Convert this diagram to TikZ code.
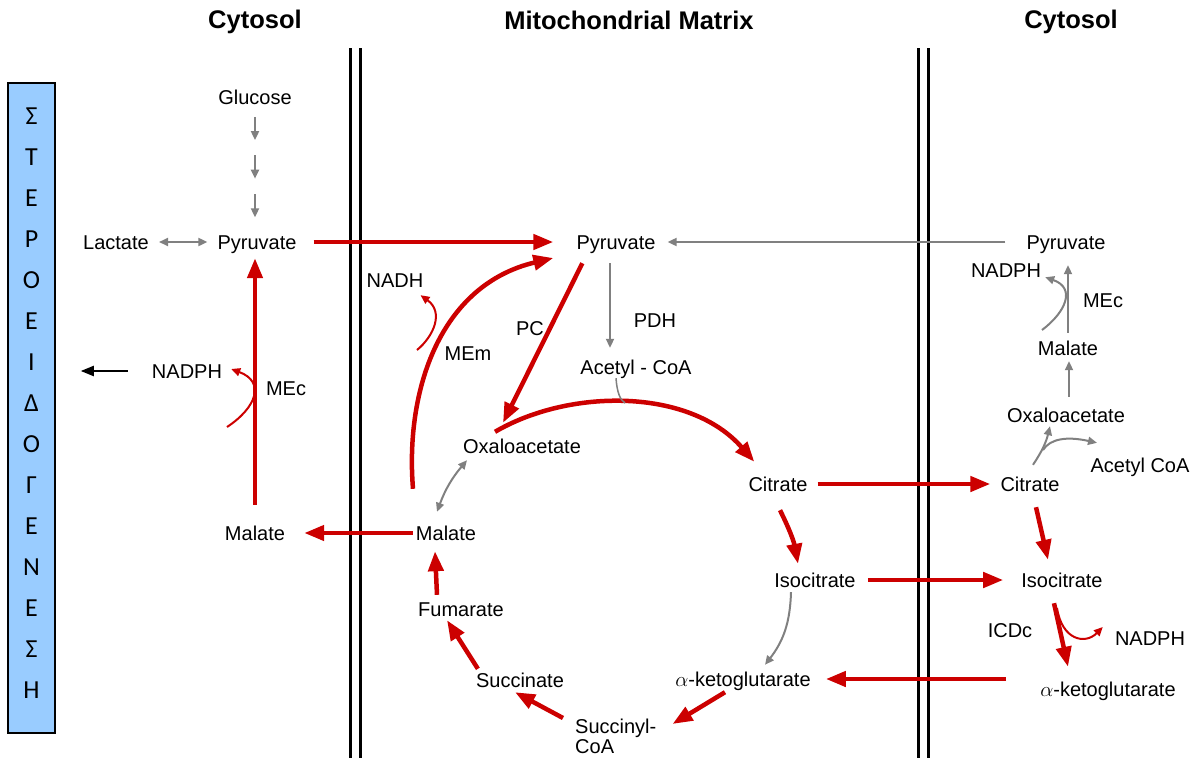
\documentclass[tikz,border=0pt]{standalone}
\usepackage{fontspec}
\setmainfont{Liberation Sans}
\newfontfamily\boxfont{Carlito}
\usetikzlibrary{arrows.meta, calc}

\definecolor{pathred}{RGB}{204,0,0}
\definecolor{sidegray}{RGB}{128,128,128}
\definecolor{boxblue}{RGB}{153,204,255}

\begin{document}
\begin{tikzpicture}[
    x=1pt, y=-1pt,
    lbl/.style={inner sep=2pt, text height=16pt, text depth=2pt, font=\fontsize{20}{24}\selectfont},
    ttl/.style={inner sep=2pt, font=\fontsize{25.5}{30}\selectfont\bfseries},
    redarr/.style={draw=pathred, line width=4.5pt, -{Triangle[length=20pt,width=15pt]}},
    redthin/.style={draw=pathred, line width=2pt, -{Triangle[length=9pt,width=8pt]}},
    grayarr/.style={draw=sidegray, line width=2pt, -{Triangle[length=9pt,width=8pt]}},
    graydbl/.style={draw=sidegray, line width=2pt, {Triangle[length=9pt,width=8pt]}-{Triangle[length=9pt,width=8pt]}},
    blkarr/.style={draw=black, line width=2pt, -{Triangle[length=13pt,width=10pt]}},
    membrane/.style={line width=3pt}
]
\useasboundingbox (0,0) rectangle (1195,758);

% compartments
\foreach \mx in {350,360,918,928}
    \draw[membrane] (\mx,48) -- (\mx,758);
\node[ttl] (cytL) at (255,22) {Cytosol};
\node[ttl] (mito) at (629,20) {Mitochondrial Matrix};
\node[ttl] (cytR) at (1071,22) {Cytosol};

\node[draw, line width=1.5pt, fill=boxblue, minimum width=47pt, minimum height=650pt, inner sep=0pt] (steroid) at (31.5,408) {};
\node[font=\boxfont\fontsize{26}{41}\selectfont, align=center, inner sep=0pt] (steroidtxt) at ([yshift=5pt]steroid.center) {Σ\\Τ\\Ε\\Ρ\\Ο\\Ε\\Ι\\Δ\\Ο\\Γ\\Ε\\Ν\\Ε\\Σ\\Η};

% left cytosol
\node[lbl] (glc) at (255,97) {Glucose};
\node[lbl] (pyrC) at (257,242) {Pyruvate};
\node[lbl] (lac) at (116,242) {Lactate};
\node[lbl] (nadphC) at (187,371) {NADPH};
\node[lbl] (mecC) at (286,388) {MEc};
\node[lbl] (malC) at (255,533) {Malate};

% matrix
\node[lbl] (pyrM) at (616,242) {Pyruvate};
\node[lbl] (pdh) at (655,320) {PDH};
\node[lbl] (acoa) at (636,367) {Acetyl - CoA};
\node[lbl] (pc) at (530,328) {PC};
\node[lbl] (mem) at (468,353) {MEm};
\node[lbl] (nadh) at (395,280) {NADH};
\node[lbl] (oaaM) at (522,446) {Oxaloacetate};
\node[lbl] (citM) at (778,484) {Citrate};
\node[lbl] (isoM) at (815,580) {Isocitrate};
\node[lbl] (akgM) at (743,679) {$\alpha$-ketoglutarate};
\node[font=\fontsize{20}{20}\selectfont, inner sep=2pt, align=left, anchor=north west] (scoa) at (573,717) {Succinyl-\\CoA};
\node[lbl] (succ) at (520,680) {Succinate};
\node[lbl] (fum) at (461,609) {Fumarate};
\node[lbl] (malM) at (446,533) {Malate};

% right cytosol
\node[lbl] (pyrR) at (1066,242) {Pyruvate};
\node[lbl] (nadphR1) at (1006,270) {NADPH};
\node[lbl] (mecR) at (1103,300) {MEc};
\node[lbl] (malR) at (1068,348) {Malate};
\node[lbl] (oaaR) at (1066,415) {Oxaloacetate};
\node[lbl] (acoaR) at (1140,465) {Acetyl CoA};
\node[lbl] (citR) at (1030,484) {Citrate};
\node[lbl] (isoR) at (1062,580) {Isocitrate};
\node[lbl] (icdc) at (1010,630) {ICDc};
\node[lbl] (nadphR2) at (1150,638) {NADPH};
\node[lbl] (akgR) at (1108,689) {$\alpha$-ketoglutarate};

\coordinate (mecCin) at (227,427);
\coordinate (memIn) at (417,350);
\coordinate (acJoin) at (625,403);
\coordinate (icdIn) at (1057,608);
\coordinate (mecRin) at (1042,330);
\coordinate (citBr) at (1043,450);

% glycolysis
\foreach \i in {0,1,2}
    \draw[grayarr] ($(glc.south)!{0.07+0.315*\i}!(glc.south |- pyrC.north)$) -- ($(glc.south)!{0.26+0.315*\i}!(glc.south |- pyrC.north)$);
\draw[graydbl] ([xshift=8pt]lac.east) -- ([xshift=-8pt]pyrC.west);
\draw[redarr] ([xshift=15pt]pyrC.east) -- ([xshift=-21pt]pyrM.west);
\draw[redarr] ([xshift=-1pt]malM.west) -- ([xshift=17pt]malC.east);
\draw[redarr] ([yshift=17pt]malC.north) -- ([yshift=-5pt]malC.north |- pyrC.south);
\draw[redthin] (mecCin) .. controls (256,408) and (266,382) .. ([xshift=7pt,yshift=2pt]nadphC.east);
\draw[blkarr] ([xshift=-22pt]nadphC.west) -- ([xshift=25pt]steroid.east |- nadphC.west);

% matrix
\draw[redarr] ([xshift=8pt,yshift=-10pt]pyrM.south west) -- ([xshift=-19pt,yshift=12pt]oaaM.north);
\draw[redarr] ([xshift=-33pt,yshift=33pt]malM.north) .. controls (405,390) and (440,285) .. ([xshift=-21pt,yshift=-16pt]pyrM.west);
\draw[redthin] (memIn) .. controls (434,336) and (444,312) .. ([xshift=-5pt,yshift=-4pt]nadh.south east);
\draw[grayarr] ([xshift=-19pt]pyrR.west) -- ([xshift=10pt]pyrM.east);
\draw[grayarr] ([xshift=-6pt,yshift=-10pt]pyrM.south) -- ([xshift=-6pt,yshift=8pt]pyrM.south |- acoa.north);
\draw[redarr] ([xshift=-27pt,yshift=3pt]oaaM.north) .. controls (570,388) and (690,388) .. ([xshift=8pt,yshift=11pt]citM.north west);
\draw[draw=sidegray, line width=1.5pt] ([xshift=-20pt]acoa.south) .. controls (617,392) and (620,400) .. (acJoin);
\draw[redarr] ([xshift=2pt,yshift=-15pt]citM.south) to[bend left=8] ([xshift=-17pt,yshift=5pt]isoM.north);
\draw[grayarr] ([xshift=-24pt,yshift=-1pt]isoM.south) to[bend left=18] ([xshift=22pt,yshift=3pt]akgM.north);
\draw[redarr] ([xshift=-18pt,yshift=-2pt]akgM.south) -- ([xshift=14pt,yshift=-7pt]scoa.north east);
\draw[redarr] ([xshift=-10pt,yshift=-1pt]scoa.north west) -- ([xshift=-5pt,yshift=-1pt]succ.south);
\draw[redarr] ([xshift=4pt]succ.north west) -- ([xshift=-14pt]fum.south);
\draw[redarr] ([xshift=-24pt,yshift=3pt]fum.north) -- ([xshift=-11pt,yshift=-7pt]malM.south);
\draw[graydbl] ([xshift=-9pt,yshift=10pt]malM.north) to[bend left=10] ([xshift=-55pt,yshift=-3pt]oaaM.south);

% export to cytosol
\draw[redarr] ([xshift=8pt]citM.east) -- ([xshift=-8pt]citR.west);
\draw[redarr] ([xshift=10pt]isoM.east) -- ([xshift=-16pt]isoR.west);
\draw[redarr] ([xshift=-32pt,yshift=10pt]akgR.west) -- ([xshift=13pt]akgM.east);

% right cytosol
\draw[redarr] ([xshift=6pt,yshift=-12pt]citR.south) -- ([xshift=-14pt,yshift=9pt]isoR.north);
\draw[redarr] ([xshift=-8pt,yshift=-12pt]isoR.south) -- ([xshift=-40pt,yshift=11pt]akgR.north);
\draw[redthin] (icdIn) .. controls (1062,640) and (1085,645) .. ([xshift=-10pt,yshift=11pt]nadphR2.west);
\draw[grayarr] ([yshift=4pt]malR.north) -- ([yshift=-12pt]malR.north |- pyrR.south);
\draw[grayarr] (mecRin) .. controls (1066,312) and (1076,288) .. ([xshift=2pt,yshift=4pt]nadphR1.south east);
\draw[grayarr] ([xshift=3pt,yshift=7pt]oaaR.north) -- ([xshift=1pt,yshift=-2pt]malR.south);
\draw[grayarr] ([xshift=3pt,yshift=8pt]citR.north) to[bend right=10] ([xshift=-16pt]oaaR.south);
\draw[grayarr] (citBr) .. controls (1050,439) and (1066,436) .. ([xshift=-43pt,yshift=11pt]acoaR.north);

\end{tikzpicture}
\end{document}
